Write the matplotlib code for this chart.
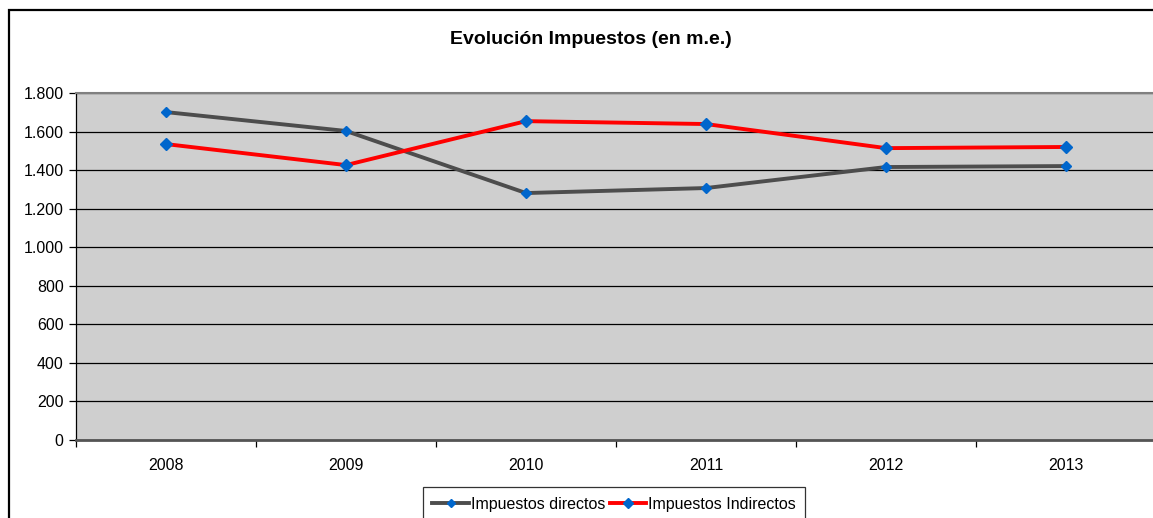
import matplotlib.pyplot as plt
from matplotlib.patches import Rectangle
from matplotlib.ticker import FuncFormatter, MultipleLocator
import numpy as np

years = ["2008", "2009", "2010", "2011", "2012", "2013"]
directos = [1701, 1603, 1281, 1307, 1416, 1421]
indirectos = [1535, 1426, 1654, 1639, 1514, 1520]

W, H = 1153, 518
fig = plt.figure(figsize=(W / 100, H / 100), dpi=100)
plt.rcParams["font.family"] = ["Liberation Sans", "DejaVu Sans"]

# outer chart border (cropped at right and bottom)
fig.patches.append(Rectangle((9 / W, -0.1), 1.2, 1.1 - 10 / H,
                             transform=fig.transFigure, fill=False,
                             edgecolor="black", linewidth=1.6))

ax = fig.add_axes([76 / W, 1 - 440 / H, 1080 / W, 347 / H])
ax.set_facecolor("#cfcfcf")

x = np.arange(len(years))
ax.plot(x, directos, color="#4d4d4d", lw=2.8, marker="D", ms=5,
        mfc="#0066cc", mec="#0066cc", label="Impuestos directos", zorder=3)
ax.plot(x, indirectos, color="#ff0000", lw=2.8, marker="D", ms=6.5,
        mfc="#0066cc", mec="#0066cc", label="Impuestos Indirectos", zorder=3)

ax.set_xlim(-0.5, len(years) - 0.5)
ax.set_ylim(0, 1800)
ax.yaxis.set_major_locator(MultipleLocator(200))
ax.yaxis.set_major_formatter(FuncFormatter(lambda v, p: f"{int(v):,}".replace(",", ".")))
ax.grid(axis="y", color="black", lw=0.9)
ax.set_axisbelow(True)

ax.set_xticks(x)
ax.set_xticklabels(years)
ax.set_xticks(np.arange(len(years) + 1) - 0.5, minor=True)
ax.tick_params(axis="x", which="major", length=0, pad=13, labelsize=11.5)
ax.tick_params(axis="x", which="minor", length=5, width=0.9)
ax.tick_params(axis="y", length=5, width=0.9, pad=4, labelsize=11.5)

ax.spines["top"].set_color("#808080")
ax.spines["top"].set_linewidth(1.5)
ax.spines["bottom"].set_color("#555555")
ax.spines["bottom"].set_linewidth(2)
ax.spines["left"].set_color("black")
ax.spines["left"].set_linewidth(0.9)
ax.spines["right"].set_visible(False)

fig.text(591 / W, 1 - 40 / H, "Evolución Impuestos (en m.e.)", ha="center",
         va="center", fontsize=14, fontweight="bold")

leg = ax.legend(loc="upper center", bbox_to_anchor=(614 / W, 1 - 487 / H),
                bbox_transform=fig.transFigure, ncol=2, frameon=True,
                fancybox=False, edgecolor="black", fontsize=11.5,
                handlelength=2.3, handletextpad=0.1, columnspacing=0.3,
                borderpad=0.6, borderaxespad=0, markerscale=0.8)
leg.get_frame().set_linewidth(0.9)

fig.savefig("out.png", dpi=100)
